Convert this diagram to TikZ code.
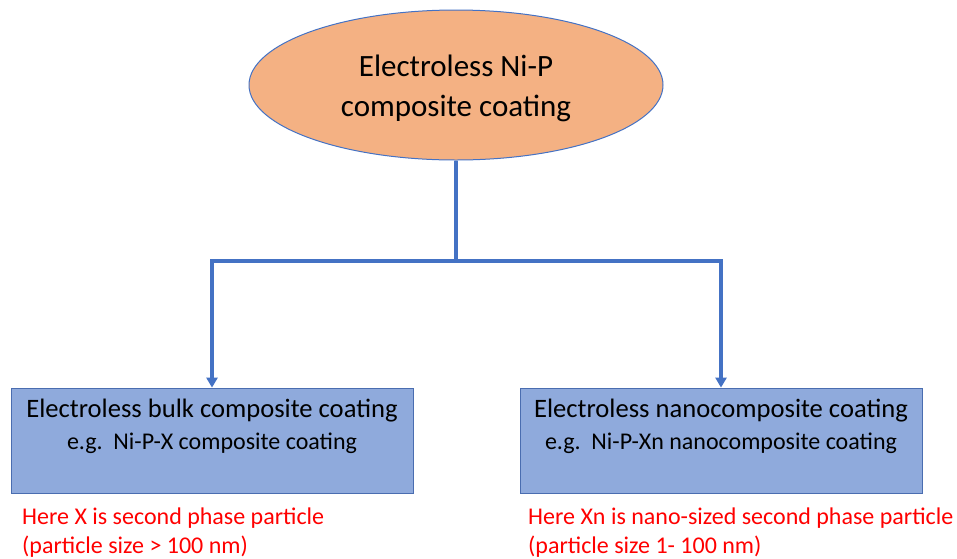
\documentclass[tikz,border=0pt]{standalone}
\usepackage{fontspec}
\setmainfont{Carlito}
\usetikzlibrary{shapes.geometric,arrows.meta}
\definecolor{ellfill}{HTML}{F4B183}
\definecolor{edge}{HTML}{4472C4}
\definecolor{boxfill}{HTML}{8FAADC}
\definecolor{boxedge}{HTML}{4A6DB0}
\definecolor{note}{HTML}{FF0000}
\tikzset{
  root/.style={ellipse, draw=edge, fill=ellfill, line width=1pt, minimum width=414pt, minimum height=150pt, inner sep=0pt},
  catbox/.style={rectangle, draw=boxedge, fill=boxfill, line width=0.8pt, minimum width=402pt, minimum height=105pt, inner sep=0pt},
  conn/.style={draw=edge, line width=3.2pt},
  connarr/.style={conn, -{Triangle[width=11pt,length=10pt]}},
  boxtitle/.style={font=\fontsize{26.6}{30}\selectfont, text=black, inner sep=0pt},
  boxsub/.style={font=\fontsize{24}{28}\selectfont, text=black, inner sep=0pt},
  notetext/.style={font=\fontsize{24}{29}\selectfont, text=note, align=left, anchor=north west, inner sep=0pt},
}
\begin{document}
\begin{tikzpicture}[x=1pt,y=-1pt]
\useasboundingbox (0,0) rectangle (957,558);
\node[root] (top) at (456,85) {};
\node[align=center, font=\fontsize{31}{40}\selectfont, inner sep=0pt] (toptext) at (456,88) {Electroless Ni-P\\composite coating};
\node[catbox] (left) at (212,440.5) {};
\node[catbox] (right) at (721,440.5) {};
\node[boxtitle] (lt) at (212,411) {Electroless bulk composite coating};
\node[boxsub] (ls) at (212,443) {e.g.\ \ Ni-P-X composite coating};
\node[boxtitle] (rt) at (721,411) {Electroless nanocomposite coating};
\node[boxsub] (rs) at (721,443) {e.g.\ \ Ni-P-Xn nanocomposite coating};
\node[notetext] (ln) at (22,508) {Here X is second phase particle\\(particle size > 100 nm)};
\node[notetext] (rn) at (528,508) {Here Xn is nano-sized second phase particle\\(particle size 1- 100 nm)};
\coordinate (split) at (456,261);
\draw[conn] (top.south) -- (split);
\draw[connarr] (split) -| (left.north);
\draw[connarr] (split) -| (right.north);
\end{tikzpicture}
\end{document}
